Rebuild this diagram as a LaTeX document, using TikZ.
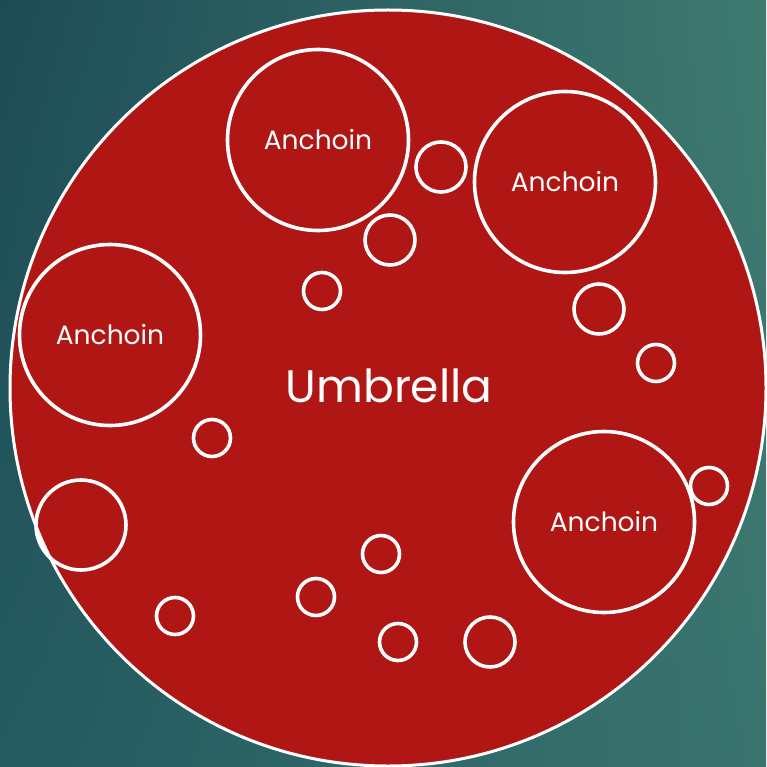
\documentclass[tikz,border=0pt]{standalone}
\usepackage{fontspec}
\setmainfont{Poppins}
\usetikzlibrary{shadings}
\definecolor{umbred}{RGB}{176,22,20}
\definecolor{bgtl}{RGB}{30,76,86}
\definecolor{bgtr}{RGB}{62,122,112}
\definecolor{bgbl}{RGB}{36,90,96}
\definecolor{bgbr}{RGB}{58,116,110}
\begin{document}
\begin{tikzpicture}[x=1pt,y=-1pt,
  ring/.style={circle, draw=white, line width=3.6pt, inner sep=0pt},
  anchoin/.style={ring, minimum size=181pt, text=white, font=\fontsize{26.5}{30}\selectfont},
  small/.style={ring, minimum size=37pt},
  medium/.style={ring, minimum size=50pt}]
\shade[upper left=bgtl, upper right=bgtr, lower left=bgbl, lower right=bgbr] (0,0) rectangle (766,767);
\useasboundingbox (0,0) rectangle (766,767);
\node[circle, fill=umbred, draw=white, line width=3pt, inner sep=0pt, minimum size=756pt] (umb) at (388,388) {};
\node[text=white, font=\fontsize{45.5}{50}\selectfont] (umbtext) at (389,386) {Umbrella};
\node[anchoin] (a1) at (318,140) {Anchoin};
\node[anchoin] (a2) at (565,182) {Anchoin};
\node[anchoin] (a3) at (110,335) {Anchoin};
\node[anchoin] (a4) at (604,522) {Anchoin};
\node[medium] (m1) at (441,167) {};
\node[medium] (m2) at (390,240) {};
\node[medium] (m3) at (599,309) {};
\node[medium] (m4) at (490,642) {};
\node[ring, minimum size=90pt] (big) at (81,525) {};
\node[small] (s1) at (322,291) {};
\node[small] (s2) at (656,363) {};
\node[small] (s3) at (212,438) {};
\node[small] (s4) at (709,486) {};
\node[small] (s5) at (381,554) {};
\node[small] (s6) at (316,597) {};
\node[small] (s7) at (175,616) {};
\node[small] (s8) at (398,642) {};
\end{tikzpicture}
\end{document}
